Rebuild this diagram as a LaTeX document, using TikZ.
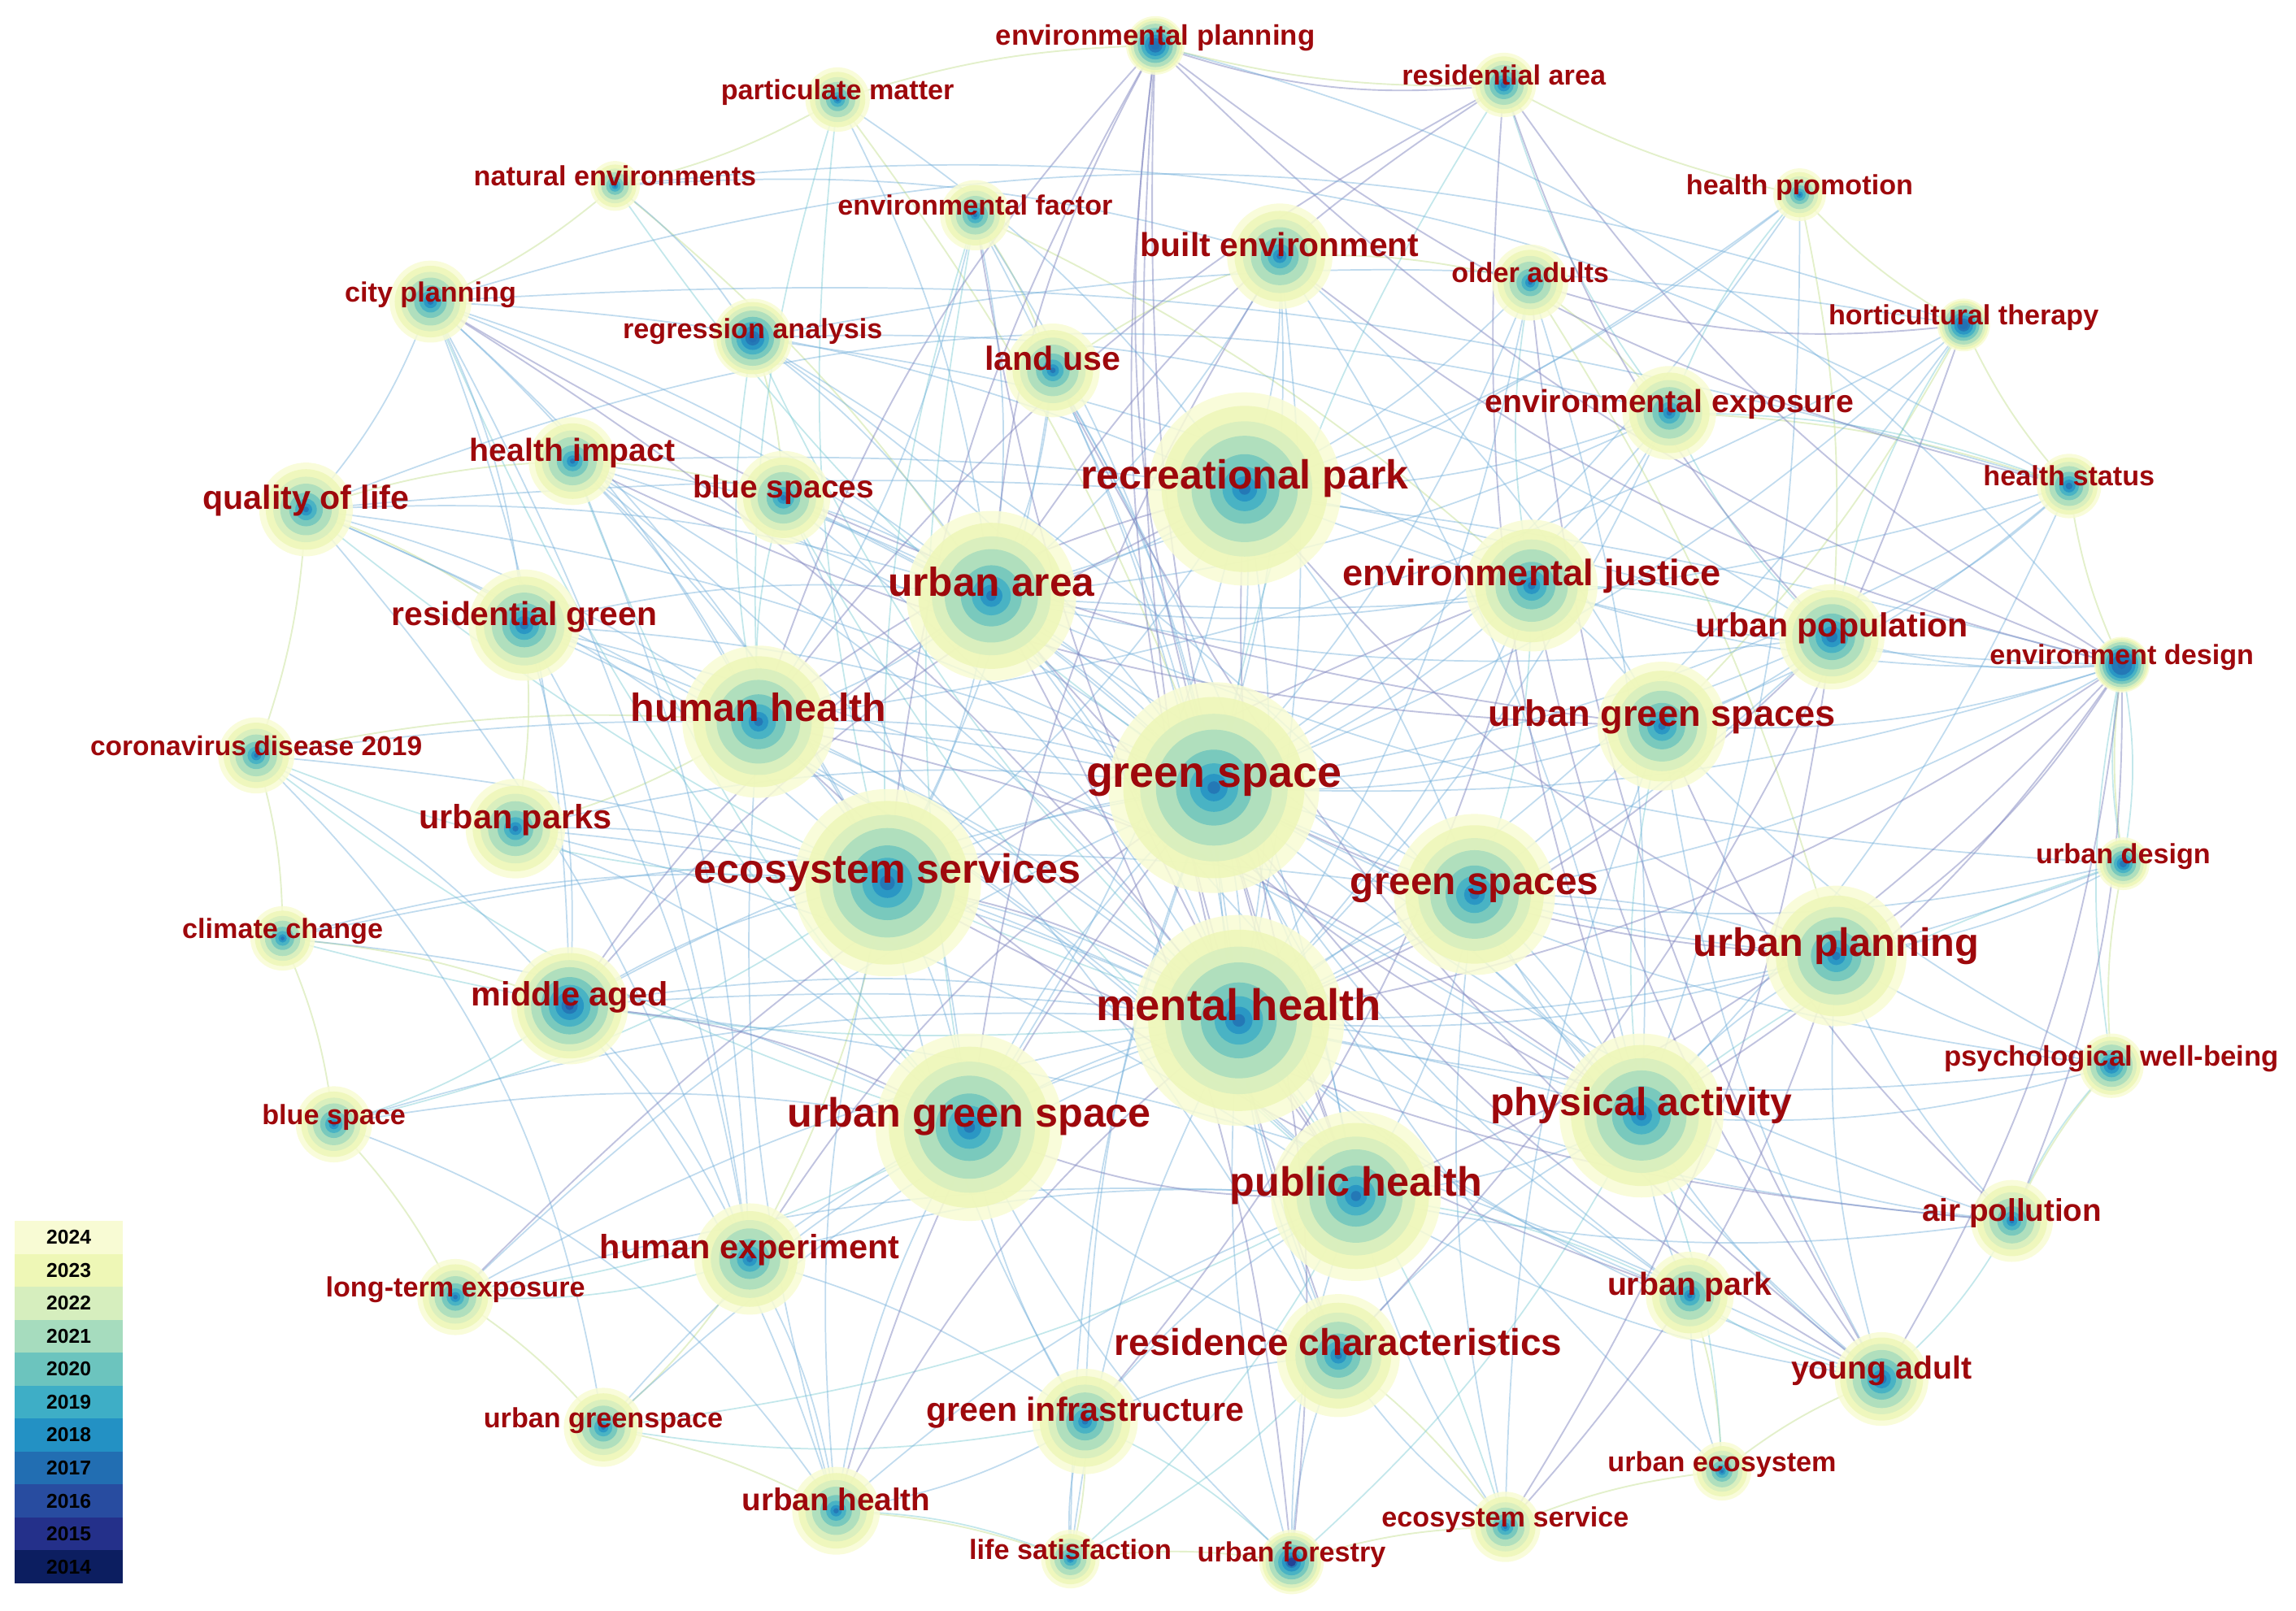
\documentclass[tikz,border=0pt]{standalone}
\usepackage{fontspec}
\setmainfont{Liberation Sans}
\definecolor{kwred}{RGB}{158,8,12}
\definecolor{y2024}{RGB}{248,251,212}
\definecolor{y2023}{RGB}{238,247,182}
\definecolor{y2022}{RGB}{214,238,190}
\definecolor{y2021}{RGB}{166,220,190}
\definecolor{y2020}{RGB}{108,196,190}
\definecolor{y2019}{RGB}{62,174,198}
\definecolor{y2018}{RGB}{35,145,196}
\definecolor{y2017}{RGB}{34,110,178}
\definecolor{y2016}{RGB}{40,76,160}
\definecolor{y2015}{RGB}{36,48,138}
\definecolor{y2014}{RGB}{12,30,96}
\definecolor{epur}{RGB}{130,135,192}
\definecolor{eblu}{RGB}{115,175,218}
\definecolor{etea}{RGB}{135,208,215}
\definecolor{egrn}{RGB}{218,235,185}

% keyword: name/x/y/radius/age/font size/label
\def\kwlist{ep/789/31/20/0.5/11/environmental planning,
  ra/1027/58/22/0.8/10.8/residential area,
  pm/572/68/22/1/10.8/particulate matter,
  ne/420/127/17/1/10.8/natural environments,
  ef/666/147/24/1/10.8/environmental factor,
  hp/1229/133/18/1/10.8/health promotion,
  be/874/175/36/1/12.9/built environment,
  oa/1045/193/26/1/10.8/older adults,
  cp/294/206/28/0.9/10.8/city planning,
  rea/514/231/27/0.6/10.8/regression analysis,
  ht/1341/222/18/0.5/10.8/horticultural therapy,
  lu/719/253/32/1/13/land use,
  ee/1140/282/32/1/12.4/environmental exposure,
  hi/391/315/30/1/12.4/health impact,
  ql/209/348/32/1/13/quality of life,
  bs/535/340/32/1/12.3/blue spaces,
  rp/850/334/66/1/15.8/recreational park,
  hs/1413/332/22/0.8/10.8/health status,
  ua/677/407/58/1/15.7/urban area,
  ej/1046/400/45/1/14.3/environmental justice,
  rg/358/427/38/0.9/12.9/residential green,
  up/1251/435/36/0.8/13/urban population,
  ed/1449/454/19/0.35/10.8/environment design,
  hh/518/493/52/1/15.3/human health,
  ugss/1135/496/44/1/14.3/urban green spaces,
  cd/175/516/26/1/10.6/coronavirus disease 2019,
  gs/829/538/72/1/17/green space,
  uparks/352/566/34/1/13.1/urban parks,
  es/606/603/64/0.9/15.9/ecosystem services,
  gss/1007/611/55/1/15.1/green spaces,
  ud/1450/590/18/0.7/10.8/urban design,
  cc/193/641/22/1/10.8/climate change,
  upl/1254/653/48/1/15.4/urban planning,
  ma/389/687/40/0.7/13.1/middle aged,
  mh/846/697/72/1/17.2/mental health,
  pwb/1442/728/22/0.7/11/psychological well-being,
  bsp/228/768/26/1/10.8/blue space,
  ugs/662/770/64/1/15.9/urban green space,
  pa/1121/762/56/1/15.2/physical activity,
  ph/926/817/58/1/15.9/public health,
  ap/1374/834/28/1/12.2/air pollution,
  he/512/860/38/1/13.1/human experiment,
  lte/311/886/26/1/10.8/long-term exposure,
  upk/1154/885/30/1/12.4/urban park,
  rc/914/926/42/1/14.5/residence characteristics,
  ya/1285/942/32/0.8/12.4/young adult,
  ugsp/412/975/27/1/10.8/urban greenspace,
  gi/741/971/36/1/13/green infrastructure,
  uec/1176/1005/20/1/10.8/urban ecosystem,
  uh/571/1032/30/1/12.2/urban health,
  esv/1028/1043/24/1/10.8/ecosystem service,
  ls/731/1065/20/1/10.8/life satisfaction,
  uf/882/1067/22/0.6/10.8/urban forestry}

\begin{document}
\begin{tikzpicture}[x=0.02cm,y=-0.02cm,
  edgepur/.style={draw=epur,line width=0.6pt,opacity=0.5},
  edgeblu/.style={draw=eblu,line width=0.55pt,opacity=0.45},
  edgetea/.style={draw=etea,line width=0.55pt,opacity=0.5},
  edgegrn/.style={draw=egrn,line width=0.6pt,opacity=0.75},
  kwlabel/.style={text=kwred,anchor=base,inner sep=0pt}]
\useasboundingbox (0,0) rectangle (1568,1100);

% keyword positions
\foreach \n/\x/\y/\r/\k/\f/\t in \kwlist
  \coordinate (\n) at (\x,\y);

% co-occurrence links
\foreach \a/\b in {pm/ep, pm/ne, ne/cp, ql/cd, cd/cc, cc/bsp, bsp/lte, lte/ugsp,
  ugsp/uh, uh/ls, ls/uf, uf/esv, esv/uec, uec/ya, ap/pwb, pwb/ud, ud/ed, ed/hs,
  hs/ht, ht/hp, hp/ra, ra/ep, ql/rg, rg/uparks, hh/uparks, es/he, he/ugsp, gi/ls,
  rc/esv, upk/uec, ee/hs, oa/ee, be/oa, lu/be, ef/lu, rea/bs, hi/bs, ql/hi,
  pm/gs, ne/ua, cd/hh, cc/ma, ef/ej, hp/up, ht/ugss, oa/upl}
  \draw[edgegrn] (\a) to[bend left=8] (\b);
\foreach \a/\b in {ne/gs, pm/hh, pm/es, ef/es, ef/ugs, rea/mh, rea/hh, cp/ugs,
  hi/ugs, bs/hh, bs/ph, cd/es, cc/mh, bsp/ma, bsp/es, lte/ugs, lte/he, ugsp/gi,
  ugsp/ph, ls/uh, ls/ph, uf/gi, esv/mh, uec/pa, upk/ph, upk/ya, ya/ap, pwb/ap,
  ud/ed, ud/pa, hs/ee, ht/up, hp/ee, oa/ej, ra/ee, ra/gs, ee/up, up/ej, gss/ej,
  ugss/pa, ls/rc, uf/pa, cd/ugs, ql/mh, ed/pwb, ed/ud}
  \draw[edgetea] (\a) to[bend right=10] (\b);
\foreach \a/\b in {cp/rp, cp/ua, cp/hh, cp/es, cp/ma, cp/rg, cp/he, cp/ql, cp/gs,
  rea/ua, rea/gs, rea/pa, rea/ej, ne/be, ne/rea, ql/hh, ql/gs, ql/ua, ql/es,
  ql/ph, ql/he, hi/hh, hi/ua, hi/gs, hi/es, hi/mh, hi/rc, hi/he, bs/gs, bs/mh,
  bs/pa, bs/ugs, bs/ua, rg/gs, rg/ua, rg/mh, rg/ma, rg/he, rg/pa, rg/ph,
  uparks/gs, uparks/mh, uparks/ugs, uparks/es, uparks/ph, cd/mh, cd/gs, cd/ma,
  cc/es, cc/ugs, cc/gss, ma/gs, ma/mh, ma/es, ma/pa, ma/uh, ma/he, ma/ya,
  bsp/mh, bsp/ugs, lte/mh, lte/gs, lte/ph, he/mh, he/ph, he/gi, he/uh, ugsp/ugs,
  ugsp/mh, gi/gs, gi/ph, gi/ugs, gi/es, gi/uh, gi/rc, uh/ph, uh/ugs, uh/es,
  uh/hh, ls/mh, ls/gi, ls/gs, uf/ph, uf/rc, uf/mh, uf/ugs, esv/ph, esv/gss,
  esv/ugss, esv/rc, uec/gs, uec/upk, upk/mh, upk/gs, upk/pa, upk/ua, ya/pa,
  ya/mh, ya/ph, ya/gss, ya/upl, ya/ugss, ap/pa, ap/gs, ap/mh, ap/upl, ap/ph,
  pwb/gs, pwb/mh, pwb/pa, pwb/upl, pwb/ugss, ud/upl, ud/gss, ud/mh, ud/ua,
  ed/up, ed/ugss, ed/gs, ed/ej, ed/rp, ed/gss, hs/up, hs/ua, hs/gs, hs/ugss,
  hs/pa, up/gs, up/mh, up/ua, up/ugss, ee/gs, ee/rp, ee/ua, ee/mh, ee/ej,
  oa/gs, oa/mh, oa/rp, oa/pa, be/gs, be/mh, be/pa, be/ua, be/rp, be/ugss,
  lu/gs, lu/ua, lu/ph, lu/es, lu/mh, ef/gs, ef/ua, ef/hh, ef/mh, pm/ua, pm/rp,
  hp/gs, hp/ua, hp/pa, hp/rp, ht/mh, ht/gs, ht/hh, rp/gs, rp/mh, rp/ua, rp/es,
  rp/ugs, rp/gss, ua/gs, ua/mh, ua/es, ua/hh, hh/gs, hh/mh, hh/es, es/gs,
  es/mh, es/ugs, ugs/mh, ugs/gs, gs/mh, gs/gss, gs/ph, gs/pa, mh/ph, mh/pa,
  mh/gss, gss/ph, gss/pa, gss/upl, pa/ph, pa/upl, rc/mh, rc/gs, rc/ugs, rc/pa,
  ej/gs, ej/mh, ej/ua, ej/ugss, ugss/gs, ugss/mh, upl/mh, upl/gs, cp/hs,
  rea/ht, ql/ed, hi/up}
  \draw[edgeblu] (\a) to[bend left=10] (\b);
\foreach \a/\b in {ep/hh, ep/ua, ep/gs, ep/mh, ep/ph, ep/rc, ep/es, ep/hs, ep/ed,
  ep/ra, ra/ua, ra/hh, ra/up, ra/ed, ra/pa, rp/ma, rp/ph, rp/hh, rp/upl, gs/ya,
  gs/he, gs/uh, gs/upl, mh/es, mh/uh, mh/up, mh/ed, ua/pa, ua/ma, ugs/ma,
  ugs/ph, ph/ed, ph/cp, pa/hh, pa/ed, uf/gs, uf/ua, oa/ya, oa/ht, hi/ugss,
  be/ed, be/ugs, ej/ya, ej/lte, es/ap, rc/ht, upl/ed, ya/ed, ap/ed, ugss/ap,
  hh/upk, esv/upl, esv/up, gi/ej, lu/ya, ef/ph, cp/ugss}
  \draw[edgepur] (\a) to[bend right=12] (\b);
% long arcs round the rim
\foreach \a/\b in {ep/ed, cp/ht, ne/hs, rea/up, ql/ee, bsp/uh, cd/ugsp}
  \draw[edgeblu] (\a) to[bend left=18] (\b);

% keyword rings, newest outside
\foreach \n/\x/\y/\r/\k/\f/\t in \kwlist {
  \fill[y2024,opacity=0.85] (\n) circle (\r);
  \fill[y2023,opacity=0.8] (\n) circle ({\r*pow(0.86,\k)});
  \fill[y2022,opacity=0.8] (\n) circle ({\r*pow(0.70,\k)});
  \fill[y2021,opacity=0.8] (\n) circle ({\r*pow(0.55,\k)});
  \fill[y2020,opacity=0.8] (\n) circle ({\r*pow(0.36,\k)});
  \fill[y2019,opacity=0.8] (\n) circle ({\r*pow(0.23,\k)});
  \fill[y2018,opacity=0.8] (\n) circle ({\r*pow(0.13,\k)});
  \fill[y2017,opacity=0.75] (\n) circle ({\r*pow(0.06,\k)});
}
\foreach \n/\c in {ma/y2016, uf/y2015, ht/y2017, rea/y2017, ed/y2017, ep/y2017}
  \fill[\c,opacity=0.75] (\n) circle (3);

% keyword labels
\foreach \n/\x/\y/\r/\k/\f/\t in \kwlist
  \node[kwlabel,font=\fontsize{\f}{\f}\selectfont\bfseries] (\n-t) at (\n) {\t};

% year legend
\foreach \yr [count=\i] in {2024,2023,2022,2021,2020,2019,2018,2017,2016,2015,2014} {
  \fill[y\yr] (10,{834+(\i-1)*22.5}) rectangle (84,{834+\i*22.5});
  \node[font=\fontsize{7.8}{8}\selectfont\bfseries] (yr\yr) at (47,{834+(\i-0.5)*22.5}) {\yr};
}
\end{tikzpicture}
\end{document}
